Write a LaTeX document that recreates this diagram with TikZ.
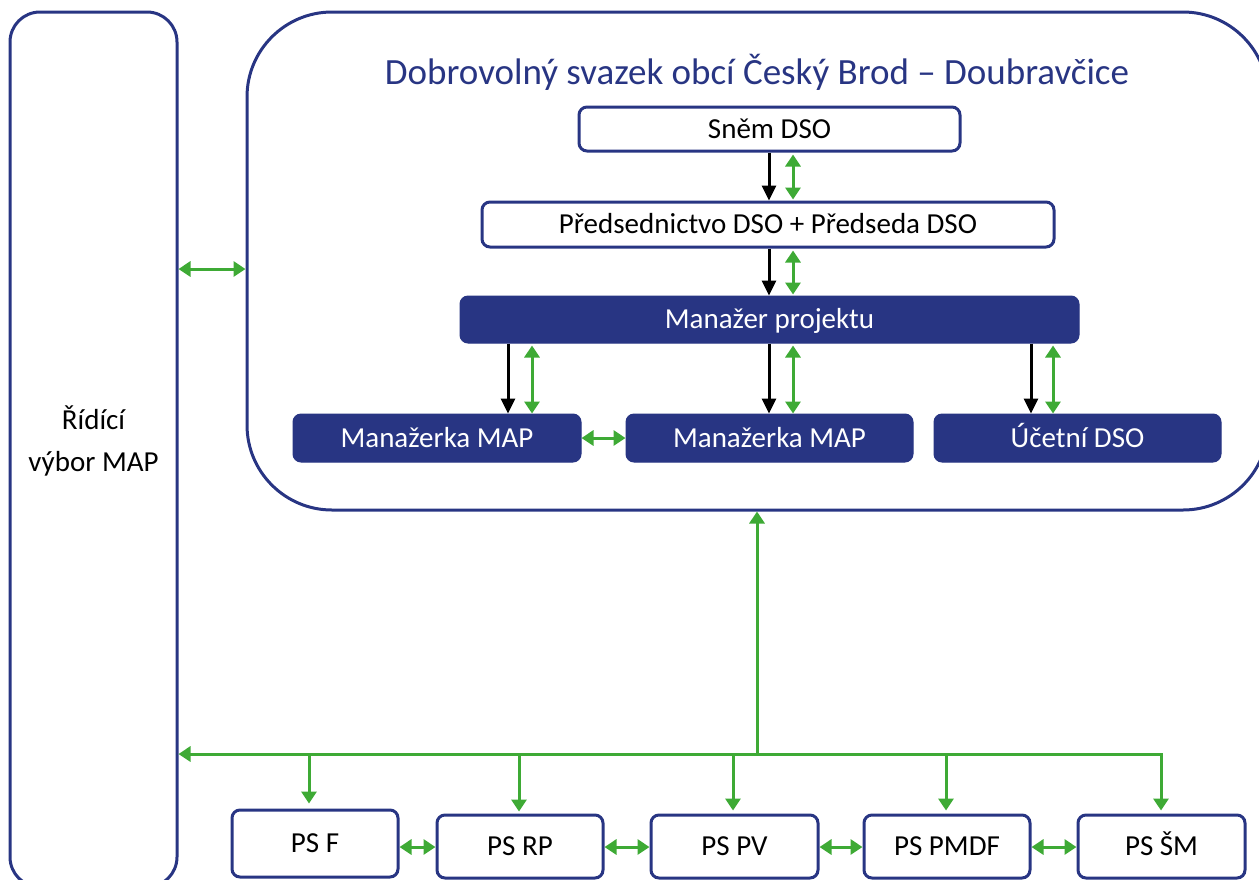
\documentclass[tikz,border=0pt]{standalone}
\usepackage{fontspec}
\setmainfont{Carlito}
\usetikzlibrary{arrows.meta}
\definecolor{dblue}{RGB}{40,53,131}
\definecolor{dgreen}{RGB}{62,170,53}
\begin{document}
\begin{tikzpicture}[x=1pt,y=-1pt,
  boxtext/.style={font=\fontsize{29}{35}\selectfont, text height=20pt, text depth=1.4pt},
  outline/.style={draw=dblue, line width=3pt, fill=white, rounded corners=8pt, boxtext, inner sep=0pt},
  filled/.style={draw=dblue, fill=dblue, text=white, line width=1pt, rounded corners=8pt, boxtext, inner sep=0pt},
  frame/.style={draw=dblue, line width=3pt, inner sep=0pt},
  blk/.style={line width=3pt, -{Triangle[width=14pt,length=15pt]}},
  grn/.style={draw=dgreen, line width=3pt, {Triangle[width=15pt,length=12pt]}-{Triangle[width=15pt,length=12pt]}},
  grnone/.style={draw=dgreen, line width=3pt, -{Triangle[width=15pt,length=12pt]}},
]
\useasboundingbox (0,0) rectangle (1259,879);
\clip (0,0) rectangle (1259,879);

% frames
\node[frame, rounded corners=30pt, minimum width=167pt, minimum height=875pt] (ridici) at (93.5,449.5) {};
\node[align=center, font=\fontsize{29}{42}\selectfont] (ridicilabel) at (93.5,441) {Řídící\\výbor MAP};
\node[frame, rounded corners=85pt, minimum width=1021pt, minimum height=498pt] (dso) at (757.5,261) {};
\node[text=dblue, font=\fontsize{37}{44}\selectfont] (title) at (757,72) {Dobrovolný svazek obcí Český Brod – Doubravčice};

% inner boxes
\node[outline, minimum width=381pt, minimum height=44pt] (snem) at (769.5,129) {Sněm DSO};
\node[outline, minimum width=572pt, minimum height=45pt] (preds) at (768,224.5) {Předsednictvo DSO + Předseda DSO};
\node[filled, minimum width=619pt, minimum height=47pt] (manazer) at (769.5,319.5) {Manažer projektu};
\node[filled, minimum width=288pt, minimum height=48pt] (map1) at (437,438) {Manažerka MAP};
\node[filled, minimum width=287pt, minimum height=48pt] (map2) at (769.5,438) {Manažerka MAP};
\node[filled, minimum width=287pt, minimum height=48pt] (ucetni) at (1077.5,438) {Účetní DSO};

% PS boxes
\node[outline, minimum width=166pt, minimum height=67pt] (psf) at (315,843.5) {PS F};
\node[outline, minimum width=166pt, minimum height=63pt] (psrp) at (520,846.5) {PS RP};
\node[outline, minimum width=167pt, minimum height=63pt] (pspv) at (734.5,846.5) {PS PV};
\node[outline, minimum width=166pt, minimum height=63pt] (pspmdf) at (947,846.5) {PS PMDF};
\node[outline, minimum width=167pt, minimum height=63pt] (pssm) at (1161.5,846.5) {PS ŠM};

% x positions of vertical connectors
\coordinate (xa) at (769,0);
\coordinate (xb) at (793,0);
\coordinate (xc) at (508,0);
\coordinate (xd) at (532,0);
\coordinate (xe) at (1031,0);
\coordinate (xf) at (1053,0);

% top hierarchy
\draw[blk] (snem.south -| xa) -- (preds.north -| xa);
\draw[grn, shorten <=2pt, shorten >=1pt] (snem.south -| xb) -- (preds.north -| xb);
\draw[blk] (preds.south -| xa) -- (manazer.north -| xa);
\draw[grn, shorten <=2pt, shorten >=1pt] (preds.south -| xb) -- (manazer.north -| xb);

\draw[blk] (manazer.south -| xc) -- (map1.north -| xc);
\draw[grn, shorten <=2pt] (manazer.south -| xd) -- (map1.north -| xd);
\draw[blk] (manazer.south -| xa) -- (map2.north -| xa);
\draw[grn, shorten <=2pt] (manazer.south -| xb) -- (map2.north -| xb);
\draw[blk] (manazer.south -| xe) -- (ucetni.north -| xe);
\draw[grn, shorten <=2pt] (manazer.south -| xf) -- (ucetni.north -| xf);

\draw[grn] (map1.east) -- (map2.west);

% link between frames
\coordinate (ylink) at (0,269);
\draw[grn] (ridici.east |- ylink) -- (dso.west |- ylink);

% bus
\coordinate (bus) at (757,754);
\coordinate (bF) at (309,754);
\coordinate (bRP) at (519,754);
\coordinate (bPV) at (733,754);
\coordinate (bPMDF) at (946,754);
\coordinate (bSM) at (1161,754);
\draw[grnone] (bus) -- (bus |- dso.south);
\draw[grnone] (bus) -- (ridici.east |- bus);
\draw[grnone, shorten >=3pt] (bus) -- (bSM) -- (bSM |- pssm.north);
\draw[grnone, shorten >=5pt] (bF) -- (bF |- psf.north);
\draw[grnone, shorten >=2pt] (bRP) -- (bRP |- psrp.north);
\draw[grnone, shorten >=3pt] (bPV) -- (bPV |- pspv.north);
\draw[grnone, shorten >=3pt] (bPMDF) -- (bPMDF |- pspmdf.north);

% links between PS boxes
\coordinate (yps) at (0,847);
\draw[grn] (psf.east |- yps) -- (psrp.west |- yps);
\draw[grn] (psrp.east |- yps) -- (pspv.west |- yps);
\draw[grn] (pspv.east |- yps) -- (pspmdf.west |- yps);
\draw[grn] (pspmdf.east |- yps) -- (pssm.west |- yps);
\end{tikzpicture}
\end{document}
